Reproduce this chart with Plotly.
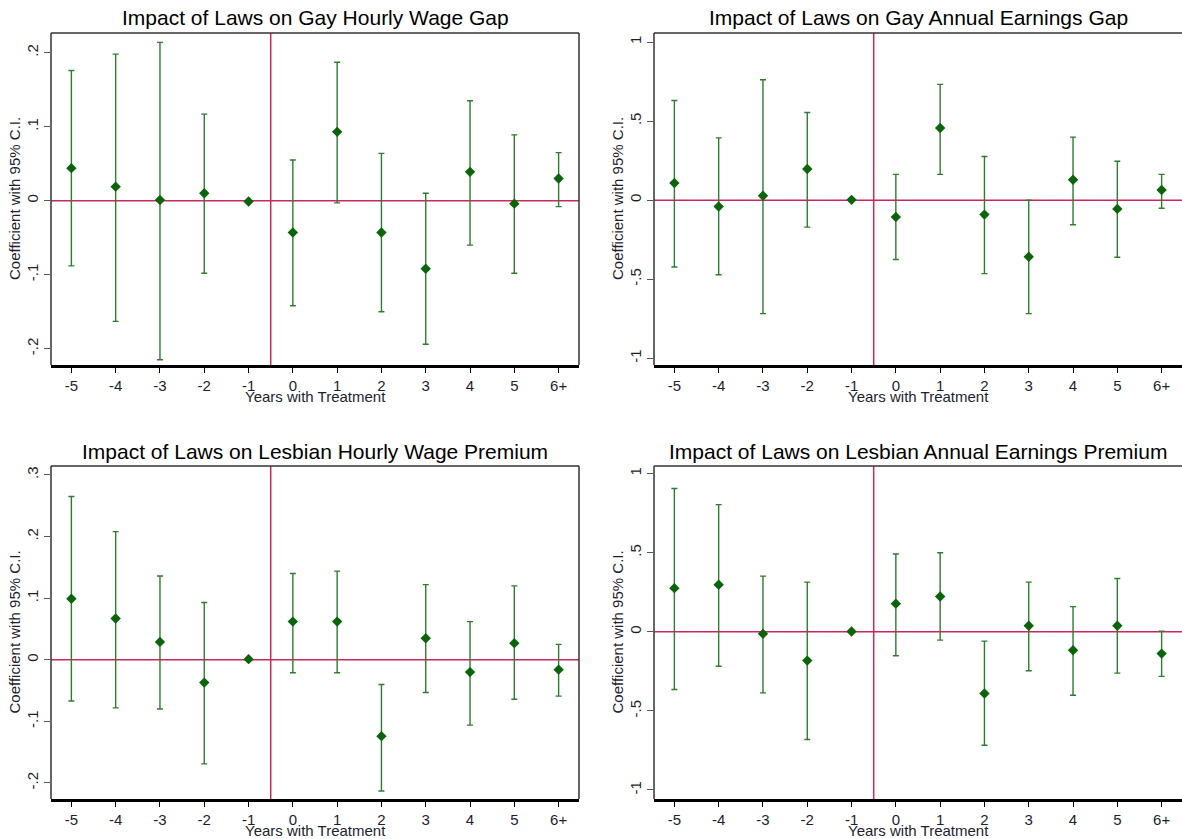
import plotly.graph_objects as go

years = ["-5", "-4", "-3", "-2", "-1", "0", "1", "2", "3", "4", "5", "6+"]

titles = [
    "Impact of Laws on Gay Hourly Wage Gap",
    "Impact of Laws on Gay Annual Earnings Gap",
    "Impact of Laws on Lesbian Hourly Wage Premium",
    "Impact of Laws on Lesbian Annual Earnings Premium",
]

gay_hourly_coef = [0.044, 0.019, 0.001, 0.010, -0.001, -0.043, 0.093, -0.043, -0.092, 0.039, -0.004, 0.030]
gay_hourly_lo = [-0.088, -0.163, -0.215, -0.098, -0.001, -0.142, -0.003, -0.150, -0.194, -0.060, -0.098, -0.008]
gay_hourly_hi = [0.176, 0.198, 0.214, 0.117, -0.001, 0.055, 0.187, 0.064, 0.010, 0.135, 0.089, 0.065]

gay_annual_coef = [0.108, -0.040, 0.028, 0.197, 0.002, -0.106, 0.456, -0.091, -0.358, 0.129, -0.055, 0.064]
gay_annual_lo = [-0.422, -0.471, -0.717, -0.170, 0.002, -0.375, 0.163, -0.464, -0.717, -0.155, -0.361, -0.051]
gay_annual_hi = [0.630, 0.394, 0.761, 0.554, 0.002, 0.163, 0.732, 0.276, 0.000, 0.399, 0.246, 0.163]

les_hourly_coef = [0.099, 0.067, 0.029, -0.037, 0.001, 0.062, 0.062, -0.124, 0.035, -0.020, 0.027, -0.016]
les_hourly_lo = [-0.067, -0.078, -0.080, -0.169, 0.001, -0.021, -0.021, -0.213, -0.053, -0.106, -0.064, -0.059]
les_hourly_hi = [0.265, 0.208, 0.136, 0.093, 0.001, 0.140, 0.144, -0.040, 0.122, 0.062, 0.120, 0.025]

les_annual_coef = [0.276, 0.297, -0.013, -0.182, 0.002, 0.178, 0.223, -0.390, 0.038, -0.117, 0.038, -0.138]
les_annual_lo = [-0.365, -0.218, -0.386, -0.681, 0.002, -0.151, -0.053, -0.717, -0.246, -0.401, -0.261, -0.282]
les_annual_hi = [0.906, 0.804, 0.352, 0.314, 0.002, 0.492, 0.500, -0.059, 0.314, 0.159, 0.337, 0.004]

hourly_ticks = [-0.2, -0.1, 0, 0.1, 0.2]
hourly_ticktext = ["-.2", "-.1", "0", ".1", ".2"]
les_hourly_ticks = [-0.2, -0.1, 0, 0.1, 0.2, 0.3]
les_hourly_ticktext = ["-.2", "-.1", "0", ".1", ".2", ".3"]
annual_ticks = [-1, -0.5, 0, 0.5, 1]
annual_ticktext = ["-1", "-.5", "0", ".5", "1"]

panels = [
    (gay_hourly_coef, gay_hourly_lo, gay_hourly_hi, hourly_ticks, hourly_ticktext, [-0.222, 0.2266]),
    (gay_annual_coef, gay_annual_lo, gay_annual_hi, annual_ticks, annual_ticktext, [-1.042, 1.057]),
    (les_hourly_coef, les_hourly_lo, les_hourly_hi, les_hourly_ticks, les_hourly_ticktext, [-0.226, 0.3146]),
    (les_annual_coef, les_annual_lo, les_annual_hi, annual_ticks, annual_ticktext, [-1.057, 1.048]),
]

W, H = 1182, 839
# pixel boxes: (left, right, top, bottom)
boxes = [(51, 579, 33, 365), (654, 1182, 33, 365), (51, 579, 466, 799), (654, 1182, 466, 799)]

FONT = "Liberation Sans, Arial, sans-serif"
GREEN = "#0a640a"
RED = "#c8285a"
TXT = "#1e1e2e"

fig = go.Figure()
layout = dict(
    width=W, height=H, margin=dict(l=0, r=0, t=0, b=0),
    paper_bgcolor="white", plot_bgcolor="white", showlegend=False,
    font=dict(family=FONT, color=TXT, size=14),
)
shapes = []
annotations = []

for i, (coef, lo, hi, yt, ytt, yr) in enumerate(panels):
    n = i + 1
    xa = "x" if n == 1 else f"x{n}"
    ya = "y" if n == 1 else f"y{n}"
    L, R, T, B = boxes[i]
    err_plus = [h - c for h, c in zip(hi, coef)]
    err_minus = [c - l for c, l in zip(coef, lo)]
    fig.add_trace(go.Scatter(
        x=years, y=coef, mode="markers", xaxis=xa, yaxis=ya,
        marker=dict(symbol="diamond", size=8, color=GREEN),
        error_y=dict(type="data", symmetric=False, array=err_plus, arrayminus=err_minus,
                     color="#2e7d2e", thickness=1.4, width=3),
        cliponaxis=False,
    ))
    xkey = "xaxis" if n == 1 else f"xaxis{n}"
    ykey = "yaxis" if n == 1 else f"yaxis{n}"
    layout[xkey] = dict(
        type="category", categoryorder="array", categoryarray=years,
        domain=[L / W, R / W], anchor=ya, range=[-0.46, 11.46],
        showgrid=False, zeroline=False, showline=True, linecolor="black", linewidth=2.5,
        ticks="outside", ticklen=5, tickcolor="black", tickwidth=1,
        tickfont=dict(size=15, family=FONT, color=TXT), fixedrange=True,
    )
    layout[ykey] = dict(
        domain=[1 - B / H, 1 - T / H], anchor=xa, range=yr,
        tickvals=yt, ticktext=ytt, tickangle=-90,
        showgrid=False, zeroline=False, showline=False,
        ticks="outside", ticklen=6, tickcolor="#555555", tickwidth=1.2,
        tickfont=dict(size=15, family=FONT, color=TXT), fixedrange=True,
    )
    # reference lines
    shapes.append(dict(type="line", xref=f"{xa} domain", yref=ya, x0=0, x1=1, y0=0, y1=0,
                       line=dict(color=RED, width=1.5), layer="below"))
    shapes.append(dict(type="line", xref=xa, yref=f"{ya} domain", x0=4.5, x1=4.5, y0=0, y1=1,
                       line=dict(color=RED, width=1.5), layer="below"))
    # frame (left, top, right)
    shapes.append(dict(type="line", xref=f"{xa} domain", yref=f"{ya} domain", x0=0, x1=0, y0=0, y1=1,
                       line=dict(color="#333333", width=1.5)))
    shapes.append(dict(type="line", xref=f"{xa} domain", yref=f"{ya} domain", x0=0, x1=1, y0=1, y1=1,
                       line=dict(color="#333333", width=1.5)))
    if R < W:
        shapes.append(dict(type="line", xref=f"{xa} domain", yref=f"{ya} domain", x0=1, x1=1, y0=0, y1=1,
                           line=dict(color="#333333", width=1.5)))
    cx = (L + R) / 2
    annotations.append(dict(text=titles[i], xref="paper", yref="paper", x=cx / W, y=1 - (T - 15) / H,
                            xanchor="center", yanchor="middle", showarrow=False,
                            font=dict(size=21, family=FONT, color="black")))
    annotations.append(dict(text="Years with Treatment", xref="paper", yref="paper", x=cx / W,
                            y=1 - (B + 31) / H, xanchor="center", yanchor="middle", showarrow=False,
                            font=dict(size=15, family=FONT, color=TXT)))
    annotations.append(dict(text="Coefficient with 95% C.I.", xref="paper", yref="paper",
                            x=(L - 37) / W, y=1 - ((T + B) / 2) / H, textangle=-90,
                            xanchor="center", yanchor="middle", showarrow=False,
                            font=dict(size=15, family=FONT, color=TXT)))

layout["shapes"] = shapes
layout["annotations"] = annotations
fig.update_layout(**layout)
fig.write_html("out.html")
